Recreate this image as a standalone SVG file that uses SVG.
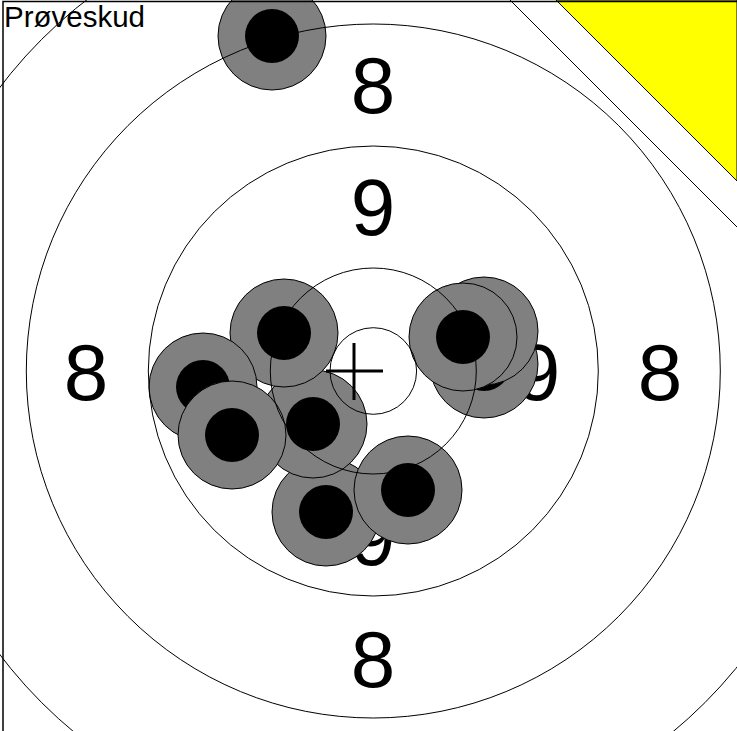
<svg xmlns="http://www.w3.org/2000/svg" width="737" height="731" viewBox="0 0 737 731">
<style>
.ring{fill:none;stroke:#000;stroke-width:1}
.num{font-family:"Liberation Sans",Arial,sans-serif;font-size:80px;text-anchor:middle;fill:#000}
.outer{fill:#808080;stroke:#000;stroke-width:1}
.inner{fill:#000}
.label{font-family:"Liberation Sans",Arial,sans-serif;font-size:29.5px;fill:#000}
</style>
<defs>
<g id="shot"><circle class="outer" r="54"/><circle class="inner" r="27"/></g>
</defs>
<rect width="737" height="731" fill="#fff"/>
<g id="numbers">
<text class="num" x="373" y="113">8</text>
<text class="num" x="373" y="235">9</text>
<text class="num" x="86" y="400">8</text>
<text class="num" x="660" y="400">8</text>
<text class="num" x="208" y="400">9</text>
<text class="num" x="538" y="400">9</text>
<text class="num" x="373" y="565">9</text>
<text class="num" x="373" y="687">8</text>
</g>
<g id="shots">
<use id="shot-trial" href="#shot" x="272" y="36"/>
<use id="shot-7" href="#shot" x="326" y="512"/>
<use id="shot-8" href="#shot" x="408" y="490"/>
<use id="shot-5" href="#shot" x="313" y="424"/>
<use id="shot-2" href="#shot" x="284" y="333"/>
<use id="shot-3" href="#shot" x="203" y="387"/>
<use id="shot-4" href="#shot" x="232" y="435"/>
<use id="shot-c" href="#shot" x="484" y="364"/>
<use id="shot-b" href="#shot" x="484" y="331"/>
<use id="shot-a" href="#shot" x="463" y="337"/>
</g>
<g id="rings">
<circle class="ring" cx="373.3" cy="371" r="43.3"/>
<circle class="ring" cx="373.3" cy="371" r="103"/>
<circle class="ring" cx="373.3" cy="371" r="225"/>
<circle class="ring" cx="373.3" cy="371" r="347"/>
<circle class="ring" cx="373.3" cy="371" r="469"/>
</g>
<g id="cross" stroke="#000" stroke-width="3">
<line x1="326" y1="371" x2="383" y2="371"/>
<line x1="354" y1="343" x2="354" y2="400"/>
</g>
<g id="corner">
<polygon points="556,0 737,0 737,181" fill="#ff0" stroke="#000" stroke-width="1"/>
<line x1="510" y1="0" x2="737" y2="227" stroke="#000" stroke-width="1"/>
</g>
<g id="frame">
<rect x="3" y="1.5" width="740" height="740" fill="none" stroke="#000" stroke-width="1.5"/>
<text class="label" x="4" y="27">Prøveskud</text>
</g>
</svg>
